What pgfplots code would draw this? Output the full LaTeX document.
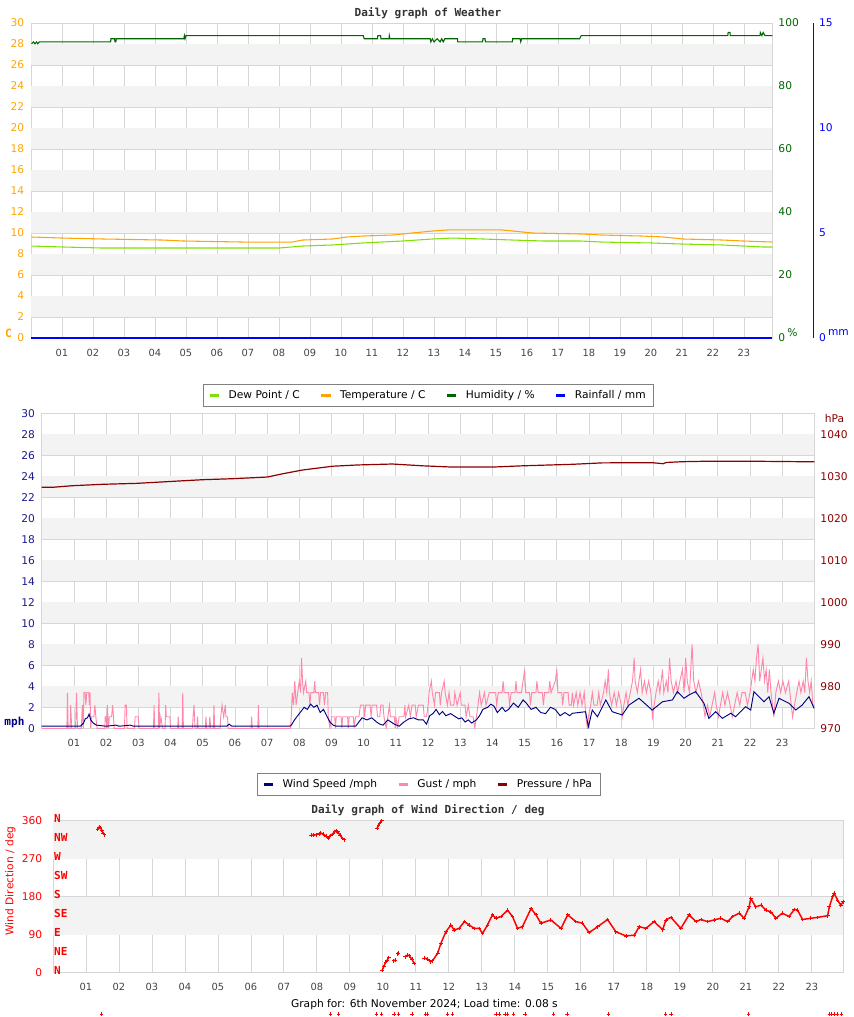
\documentclass[border=0pt]{standalone}
\usepackage{pgfplots}
\pgfplotsset{compat=1.18}
\usepackage{fontspec}
\setmainfont{DejaVu Sans}
\newfontfamily\monof{DejaVu Sans Mono}
\definecolor{bandgray}{HTML}{F3F3F3}
\definecolor{gridgray}{HTML}{D6D6D6}
\definecolor{tempor}{HTML}{FFA500}
\definecolor{dewgr}{HTML}{80E000}
\definecolor{humgr}{HTML}{006400}
\definecolor{rainbl}{HTML}{0000FF}
\definecolor{windnv}{HTML}{000080}
\definecolor{gustpk}{HTML}{FF88AA}
\definecolor{presrd}{HTML}{8B0000}
\definecolor{titlegr}{HTML}{333333}
\definecolor{ticknv}{HTML}{1C1C8C}
\definecolor{xlab}{HTML}{444444}
\newcommand{\ticksz}{\fontsize{8}{9}\selectfont}
\newcommand{\xticksz}{\fontsize{7.4}{9}\selectfont}
\newcommand{\titlef}{\monof\bfseries\fontsize{8.3}{10}\selectfont}

\pgfplotsset{
  mainax/.style={
    scale only axis, anchor=south west, set layers,
    /pgf/number format/assume math mode=true,
    /pgf/number format/1000 sep={},
    xmin=0,
    xtick={1,...,23},
    xticklabels={01,02,03,04,05,06,07,08,09,10,11,12,13,14,15,16,17,18,19,20,21,22,23},
    xticklabel style={font=\xticksz, text=xlab, yshift=-4pt, text height=6pt, text depth=0pt},
    grid=major, grid style={gridgray, line width=0.6pt},
    axis line style={gridgray, line width=0.6pt},
    major tick length=0pt,
    yticklabel style={font=\ticksz, xshift=-1.5pt},
  },
  secax/.style={
    scale only axis, anchor=south west,
    /pgf/number format/assume math mode=true,
    /pgf/number format/1000 sep={},
    xmin=0, axis x line=none, axis y line*=right,
    y axis line style={draw=none},
    major tick length=0pt,
    yticklabel style={font=\ticksz, xshift=1pt},
  },
  leg/.style={
    legend style={at={#1}, anchor=north, legend columns=-1,
      draw=gray, fill=white, font=\fontsize{8}{9}\selectfont,
      inner xsep=4pt, inner ysep=2.5pt,
      /tikz/every odd column/.append style={column sep=4pt},
      /tikz/every even column/.append style={column sep=13pt}},
    legend image code/.code={\draw[##1, line width=2.2pt] (0pt,0pt) -- (7pt,0pt);},
  },
}

\pgfplotstableread{
h v
0.02 9.62
1.02 9.52
2.31 9.43
4.25 9.33
4.89 9.24
6.83 9.14
8.44 9.14
8.76 9.33
9.73 9.43
10.2 9.62
10.7 9.71
11.67 9.81
12.3 10.0
12.96 10.19
13.44 10.29
15.2 10.29
15.54 10.19
16.18 10.0
17.8 9.9
18.4 9.81
19.73 9.71
20.4 9.62
21.02 9.43
22.31 9.33
22.96 9.24
23.92 9.14
}\temptab

\pgfplotstableread{
h v
0.02 8.76
1.0 8.67
2.3 8.57
8.0 8.57
8.76 8.76
9.73 8.86
10.7 9.05
12.0 9.24
12.96 9.43
13.6 9.52
14.57 9.43
15.54 9.33
16.5 9.24
17.7 9.24
18.4 9.14
20.0 9.05
21.0 8.95
22.3 8.86
23.6 8.67
23.92 8.67
}\dewtab

\pgfplotstableread{
h v
0.02 93.4
0.08 94
0.13 93.4
0.18 94
0.22 93.4
0.27 94
2.57 94
2.58 95
2.70 95
2.71 94
2.74 94
2.75 95
4.93 95
4.95 96
4.97 95
5.0 96
10.72 96
10.75 95
11.18 95
11.19 96
11.28 96
11.29 95
11.55 95
11.56 96
11.58 95
12.88 95
12.9 94
12.95 95
13.0 94
13.1 95
13.2 94
13.25 95
13.3 94
13.35 95
13.76 95
13.77 94
14.57 94
14.58 95
14.65 95
14.66 94
15.53 94
15.54 95
15.78 95
15.8 94
15.83 95
17.7 95
17.75 96
22.48 96
22.49 97
22.55 97
22.56 96
23.52 96
23.53 97
23.58 96
23.62 97
23.68 96
23.92 96
}\humtab

\pgfplotstableread{
h v
0 0
23.92 0
}\raintab

\pgfplotstableread{
h v
0 1027.38
0.33 1027.38
0.95 1027.76
1.89 1028.1
2.97 1028.33
4.06 1028.8
4.99 1029.19
5.92 1029.43
7.01 1029.83
7.48 1030.6
8.1 1031.5
9.03 1032.4
9.8 1032.7
10.89 1032.93
11.83 1032.5
12.76 1032.2
14.0 1032.2
14.93 1032.5
16.48 1032.86
17.41 1033.2
18.97 1033.24
19.3 1033.0
19.4 1033.3
19.9 1033.48
20.5 1033.57
22.38 1033.57
24.0 1033.45
}\prestab

\pgfplotstableread{
h v
0 0.2
1.2 0.2
1.3 0.5
1.35 0.9
1.42 1.0
1.47 1.35
1.52 0.8
1.6 0.5
1.7 0.3
2.0 0.2
2.3 0.3
2.4 0.2
2.75 0.3
2.85 0.2
5.75 0.2
5.82 0.4
5.9 0.2
7.7 0.2
7.75 0.3
7.85 0.8
7.95 1.2
8.05 1.6
8.15 2.0
8.25 1.8
8.35 2.3
8.45 2.0
8.55 2.2
8.65 1.5
8.75 1.8
8.85 1.2
8.95 0.6
9.05 0.3
9.15 0.2
9.75 0.2
9.85 0.6
9.95 1.0
10.1 0.8
10.25 1.0
10.4 0.6
10.5 0.4
10.6 0.3
10.75 0.8
10.85 0.6
10.95 0.4
11.1 0.2
11.25 0.6
11.4 0.9
11.55 1.0
11.7 0.8
11.85 0.8
11.95 0.4
12.05 1.2
12.15 1.4
12.25 1.8
12.35 1.3
12.45 1.6
12.55 1.2
12.7 1.4
12.85 1.1
12.95 0.9
13.05 1.0
13.15 0.6
13.25 0.8
13.35 0.5
13.5 0.8
13.6 1.2
13.7 1.8
13.85 2.0
13.95 2.3
14.05 2.1
14.15 1.5
14.3 2.0
14.4 1.6
14.5 1.8
14.65 2.4
14.8 2.0
14.95 2.7
15.05 2.4
15.2 1.8
15.35 2.0
15.5 1.5
15.65 1.4
15.8 2.0
15.95 1.8
16.1 1.2
16.25 1.5
16.4 1.2
16.48 1.43
16.89 1.58
16.98 0.15
17.10 1.74
17.26 1.1
17.52 2.7
17.72 1.58
18.03 1.27
18.24 2.22
18.55 2.86
18.96 1.74
19.28 2.53
19.59 2.7
19.74 3.49
19.95 2.86
20.10 3.17
20.31 3.49
20.57 2.38
20.72 0.95
20.93 1.58
21.14 0.95
21.40 1.43
21.55 1.1
21.86 2.06
22.02 1.74
22.12 3.49
22.43 2.53
22.59 3.01
22.74 1.43
22.90 2.86
23.21 2.38
23.42 1.74
23.62 2.22
23.83 3.01
23.99 1.9
}\windtab

\pgfplotstableread{
h v
0 0
0.78 0
0.80 3.4
0.82 0
0.88 0
0.9 2.2
0.93 0
1.05 0
1.08 3.4
1.11 0
1.23 0
1.26 2.2
1.29 0
1.31 3.4
1.35 3.4
1.37 2.2
1.40 3.4
1.46 3.4
1.48 2.2
1.5 3.4
1.52 0
1.55 1.1
1.62 1.1
1.65 2.2
1.68 1.1
1.72 0
1.96 0
1.97 1.1
2.0 1.1
2.02 0
2.04 2.2
2.07 0
2.1 1.1
2.17 1.1
2.2 2.2
2.23 1.1
2.25 0
2.57 0
2.59 2.2
2.63 2.2
2.65 0
2.88 0
2.9 1.1
3.0 1.1
3.02 0
3.47 0
3.49 2.2
3.51 0
3.62 0
3.64 3.4
3.66 0
3.7 1.1
3.75 0
3.83 0
3.85 2.2
3.87 1.1
3.98 1.1
4.0 0
4.22 0
4.24 1.1
4.26 0
4.36 0
4.38 3.4
4.40 0
4.68 0
4.70 1.1
4.73 2.2
4.76 0
4.82 0
4.84 1.1
4.86 0
5.08 0
5.1 1.1
5.12 0
5.2 0
5.22 1.1
5.25 0
5.33 0
5.35 2.2
5.37 0
5.54 0
5.56 1.1
5.6 2.2
5.65 1.1
5.7 2.2
5.72 1.1
5.77 1.1
5.79 0
6.5 0
6.52 1.1
6.54 0
6.71 0
6.73 2.2
6.75 0
7.73 0
7.75 1.1
7.78 3.4
7.82 2.2
7.86 4.5
7.9 2.2
7.95 3.4
8.0 4.5
8.04 3.4
8.07 6.7
8.1 4.5
8.13 3.4
8.2 4.5
8.23 3.4
8.3 3.4
8.33 2.2
8.36 3.4
8.45 3.4
8.48 4.5
8.5 3.4
8.6 3.4
8.63 2.2
8.66 3.4
8.75 3.4
8.78 2.2
8.82 3.4
8.88 3.4
8.9 1.1
8.95 0
9.0 1.1
9.1 1.1
9.12 0
9.15 1.1
9.3 1.1
9.32 0
9.35 1.1
9.5 1.1
9.52 0
9.55 1.1
9.68 1.1
9.7 0
9.75 1.1
9.85 1.1
9.9 2.2
10.0 2.2
10.03 1.1
10.06 2.2
10.2 2.2
10.23 1.1
10.26 2.2
10.4 2.2
10.43 1.1
10.5 1.1
10.53 2.2
10.6 2.2
10.63 1.1
10.7 0
10.75 1.1
10.8 2.2
10.83 1.1
10.95 1.1
10.98 0
11.0 1.1
11.05 0
11.1 1.1
11.25 1.1
11.28 2.2
11.3 1.1
11.4 2.2
11.45 1.1
11.5 2.2
11.6 2.2
11.63 1.1
11.7 2.2
11.85 2.2
11.88 1.1
11.95 1.1
12.0 2.2
12.03 3.4
12.1 4.5
12.13 3.4
12.2 2.2
12.23 3.4
12.35 3.4
12.38 2.2
12.42 3.4
12.5 4.5
12.53 3.4
12.6 2.2
12.65 3.4
12.7 2.2
12.8 2.2
12.83 3.4
12.9 2.2
13.0 3.4
13.03 2.2
13.15 2.2
13.18 1.1
13.25 2.2
13.3 1.1
13.4 1.1
13.45 0
13.5 1.1
13.55 2.2
13.6 3.4
13.65 2.2
13.75 3.4
13.8 2.2
13.9 3.4
14.1 3.4
14.13 2.2
14.18 3.4
14.3 3.4
14.33 4.5
14.36 3.4
14.5 3.4
14.53 2.2
14.58 3.4
14.7 3.4
14.73 4.5
14.76 3.4
14.9 3.4
14.95 4.5
15.0 5.6
15.03 3.4
15.15 3.4
15.18 2.2
15.22 3.4
15.35 3.4
15.38 4.5
15.42 3.4
15.55 3.4
15.58 2.2
15.62 3.4
15.75 3.4
15.78 4.5
15.82 3.4
15.95 4.5
16.0 5.6
16.03 3.4
16.15 3.4
16.18 2.2
16.22 3.4
16.35 3.4
16.38 2.2
16.45 2.2
16.48 3.4
16.52 2.2
16.6 3.4
16.65 2.2
16.72 3.4
16.78 2.2
16.85 3.4
16.9 1.1
16.95 0
16.98 1.1
17.05 2.2
17.1 3.4
17.15 2.2
17.25 2.2
17.3 3.4
17.35 2.2
17.45 3.4
17.5 4.5
17.55 3.4
17.6 5.6
17.63 3.4
17.7 2.2
17.78 3.4
17.85 2.2
17.92 3.4
18.0 2.2
18.03 1.1
18.08 2.2
18.15 3.4
18.2 2.2
18.28 3.4
18.35 4.5
18.4 6.7
18.43 4.5
18.5 3.4
18.55 4.5
18.6 5.6
18.65 3.4
18.72 4.5
18.78 3.4
18.85 4.5
18.92 3.4
18.97 1.1
19.02 2.2
19.08 3.4
19.15 4.5
19.2 3.4
19.28 5.6
19.32 3.4
19.4 4.5
19.45 3.4
19.5 6.7
19.55 4.5
19.62 3.4
19.7 4.5
19.75 3.4
19.82 4.5
19.9 5.6
19.95 3.4
20.0 6.7
20.05 4.5
20.12 3.4
20.2 8.0
20.25 4.5
20.32 3.4
20.4 4.5
20.48 3.4
20.55 2.2
20.6 1.1
20.68 2.2
20.75 1.1
20.82 2.2
20.9 3.4
20.95 2.2
21.02 1.1
21.08 2.2
21.15 3.4
21.22 2.2
21.3 3.4
21.38 2.2
21.45 1.1
21.52 2.2
21.6 3.4
21.68 2.2
21.75 3.4
21.85 3.4
21.92 2.2
22.0 3.4
22.05 4.5
22.1 5.6
22.15 4.5
22.2 6.7
22.25 8.0
22.3 4.5
22.35 5.6
22.4 6.7
22.45 4.5
22.5 5.6
22.55 3.4
22.6 5.6
22.65 3.4
22.7 2.2
22.74 1.1
22.8 3.4
22.88 4.5
22.95 3.4
23.02 4.5
23.1 3.4
23.2 4.5
23.28 2.2
23.32 1.1
23.38 2.2
23.45 3.4
23.52 4.5
23.58 3.4
23.65 4.5
23.7 3.4
23.75 6.7
23.8 4.5
23.85 3.4
23.9 4.5
23.95 2.2
23.99 2.2
}\gusttab

\pgfplotstableread{
h v
1.35 340
1.40 345
1.44 344
1.48 338
1.52 330
1.56 327
nan nan
7.82 326
7.9 326
7.98 327
8.07 329
8.12 331
8.2 328
8.28 323
8.35 319
8.42 325
8.5 331
8.58 336
8.63 334
8.7 326
8.78 318
8.84 315
nan nan
9.82 342
9.87 350
9.93 357
9.97 360
nan nan
9.98 6
10.03 15
10.08 24
10.13 30
10.18 36
nan nan
10.33 28
10.38 30
nan nan
10.45 45
10.46 46
nan nan
10.68 38
10.75 42
10.8 40
10.88 32
10.95 22
nan nan
11.25 35
11.36 32
11.45 26
11.5 28
11.66 46
11.76 70
11.91 97
12.06 113
12.16 101
12.31 105
12.47 121
12.62 113
12.77 105
12.92 105
13.02 93
13.17 113
13.32 137
13.43 129
13.58 133
13.78 148
13.93 133
14.08 105
14.23 109
14.49 152
14.64 137
14.79 117
15.09 125
15.40 105
15.6 137
15.85 121
16.05 117
16.25 95
16.51 109
16.81 126
17.06 97
17.37 87
17.62 89
17.77 109
17.97 105
18.22 121
18.48 102
18.58 125
18.73 131
19.03 105
19.28 137
19.49 121
19.64 126
19.84 121
20.04 125
20.24 129
20.45 121
20.6 133
20.8 141
20.95 129
21.1 156
21.15 176
21.3 156
21.46 160
21.61 148
21.76 144
21.91 129
22.11 141
22.31 133
22.47 150
22.57 148
22.72 126
22.97 129
23.17 131
23.48 135
23.53 156
23.63 180
23.68 188
23.78 172
23.88 160
23.95 168
}\dirtab

\pgfplotstableread{
h v
1.48 -98
8.42 -98
8.66 -98
9.81 -98
9.96 -98
10.34 -98
10.47 -98
10.88 -98
11.28 -98
11.36 -98
11.96 -98
12.11 -98
13.43 -98
13.53 -98
13.70 -98
13.78 -98
13.96 -98
14.31 -98
15.17 -98
15.58 -98
16.84 -98
18.57 -98
18.73 -98
21.08 -98
23.53 -98
23.60 -98
23.68 -98
23.78 -98
23.91 -98
}\straytab

\begin{document}
\begin{tikzpicture}
\begin{scope}[x=0.75pt,y=-0.75pt]
\path[use as bounding box] (0,0) rectangle (850,1017);
\node[text=titlegr, font=\titlef] at (425.5,13) {Daily graph of Weather};
\node[text=titlegr, font=\titlef] at (425.5,401) {Daily graph of Wind / Pressure};
\node[text=titlegr, font=\titlef] at (425.5,810) {Daily graph of Wind Direction / deg};
\node[font=\fontsize{8}{9}\selectfont] at (422,1005) {Graph for: 6th November 2024; Load time: 0.08 s};
\end{scope}

% ---------------- Panel 1 ----------------
\begin{axis}[mainax, leg={(0.536,-0.146)},
  at={(21.375pt,-253.5pt)}, width=556.125pt, height=236.25pt,
  xmax=23.92, ymin=0, ymax=30, ytick={0,2,...,30},
  yticklabel style={text=tempor},
]
\fill[bandgray, on layer=axis background] (axis cs:0,2) rectangle (axis cs:23.92,4);
\fill[bandgray, on layer=axis background] (axis cs:0,6) rectangle (axis cs:23.92,8);
\fill[bandgray, on layer=axis background] (axis cs:0,10) rectangle (axis cs:23.92,12);
\fill[bandgray, on layer=axis background] (axis cs:0,14) rectangle (axis cs:23.92,16);
\fill[bandgray, on layer=axis background] (axis cs:0,18) rectangle (axis cs:23.92,20);
\fill[bandgray, on layer=axis background] (axis cs:0,22) rectangle (axis cs:23.92,24);
\fill[bandgray, on layer=axis background] (axis cs:0,26) rectangle (axis cs:23.92,28);
\addlegendimage{dewgr}\addlegendentry{Dew Point / C}
\addlegendimage{tempor}\addlegendentry{Temperature / C}
\addlegendimage{humgr}\addlegendentry{Humidity / \%}
\addlegendimage{rainbl}\addlegendentry{Rainfall / mm}
\addplot[tempor, line width=0.8pt, forget plot] table[x=h,y=v] {\temptab};
\addplot[dewgr, line width=0.8pt, forget plot] table[x=h,y=v] {\dewtab};
\end{axis}

\begin{axis}[secax,
  at={(21.375pt,-253.5pt)}, width=556.125pt, height=236.25pt,
  xmax=23.92, ymin=0, ymax=100, ytick={0,20,...,100},
  yticklabel style={text=humgr},
]
\addplot[humgr, line width=0.8pt] table[x=h,y=v] {\humtab};
\end{axis}

\begin{axis}[secax,
  at={(21.375pt,-253.5pt)}, width=586.65pt, height=236.25pt,
  xmax=25.233, ymin=0, ymax=15, ytick={0,5,10,15},
  y axis line style={draw=rainbl, line width=0.8pt},
  yticklabel style={text=rainbl},
]
\addplot[rainbl, line width=1pt] table[x=h,y=v] {\raintab};
\end{axis}

% ---------------- Panel 2 ----------------
\begin{axis}[mainax, leg={(0.5005,-0.142)},
  at={(29.475pt,-546.225pt)}, width=579.525pt, height=236.25pt,
  xmax=24, ymin=0, ymax=30, ytick={0,2,...,30},
  yticklabel style={text=ticknv},
]
\fill[bandgray, on layer=axis background] (axis cs:0,2) rectangle (axis cs:24,4);
\fill[bandgray, on layer=axis background] (axis cs:0,6) rectangle (axis cs:24,8);
\fill[bandgray, on layer=axis background] (axis cs:0,10) rectangle (axis cs:24,12);
\fill[bandgray, on layer=axis background] (axis cs:0,14) rectangle (axis cs:24,16);
\fill[bandgray, on layer=axis background] (axis cs:0,18) rectangle (axis cs:24,20);
\fill[bandgray, on layer=axis background] (axis cs:0,22) rectangle (axis cs:24,24);
\fill[bandgray, on layer=axis background] (axis cs:0,26) rectangle (axis cs:24,28);
\addlegendimage{windnv}\addlegendentry{Wind Speed /mph}
\addlegendimage{gustpk}\addlegendentry{Gust / mph}
\addlegendimage{presrd}\addlegendentry{Pressure / hPa}
\addplot[gustpk, line width=0.7pt, forget plot] table[x=h,y=v] {\gusttab};
\addplot[windnv, line width=0.7pt, forget plot] table[x=h,y=v] {\windtab};
\end{axis}

\begin{axis}[secax,
  at={(29.475pt,-546.225pt)}, width=579.525pt, height=236.25pt,
  xmax=24, ymin=970, ymax=1045, ytick={970,980,...,1040},
  yticklabel style={text=presrd},
]
\addplot[presrd, line width=0.9pt] table[x=h,y=v] {\prestab};
\end{axis}

% ---------------- Panel 3 ----------------
\begin{axis}[mainax,
  at={(37.875pt,-729.525pt)}, width=592.65pt, height=114pt,
  xmax=23.95, ymin=0, ymax=360, ytick={0,90,180,270,360},
  yticklabel style={text=red, xshift=-3pt},
  clip=false, unbounded coords=jump,
]
\fill[bandgray, on layer=axis background] (axis cs:0,90) rectangle (axis cs:23.95,180);
\fill[bandgray, on layer=axis background] (axis cs:0,270) rectangle (axis cs:23.95,360);
\addplot[red, line width=1.1pt, mark=+, mark size=1.4pt, mark options={line width=0.6pt}] table[x=h,y=v] {\dirtab};
\addplot[red, only marks, mark=+, mark size=1.2pt, mark options={line width=0.6pt}] table[x=h,y=v] {\straytab};
\end{axis}

\begin{scope}[x=0.75pt,y=-0.75pt]
\node[text=tempor, font=\monof\bfseries\fontsize{8.5}{10}\selectfont] at (6,333) {C};
\node[text=humgr, font=\ticksz] at (790,333) {\%};
\node[text=rainbl, font=\ticksz] at (836,333) {mm};
\node[text=presrd, font=\ticksz] at (832,419) {hPa};
\node[text=windnv, font=\monof\bfseries\fontsize{8.3}{10}\selectfont] at (12,722) {mph};
\node[text=red, font=\ticksz, rotate=90] at (8,881) {Wind Direction / deg};
\foreach \lab/\yy in {N/818, NW/837, W/856, SW/875, S/894, SE/913, E/932, NE/951, N/970}{
  \node[text=red, font=\monof\bfseries\fontsize{8.3}{10}\selectfont, anchor=west, inner sep=0pt] at (51.5,\yy) {\lab};
}
\end{scope}
\end{tikzpicture}
\end{document}
